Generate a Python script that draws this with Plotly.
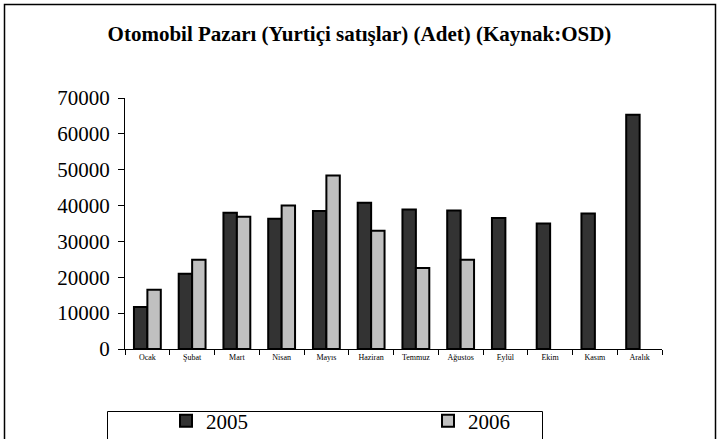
import plotly.graph_objects as go

months = ["Ocak", "Şubat", "Mart", "Nisan", "Mayıs", "Haziran", "Temmuz",
          "Ağustos", "Eylül", "Ekim", "Kasım", "Aralık"]
sales_2005 = [11700, 21000, 38000, 36300, 38500, 40800, 38900, 38600, 36500, 35000, 37800, 65300]
sales_2006 = [16500, 24900, 36900, 40000, 48400, 33000, 22600, 24900, None, None, None, None]
y_ticks = [0, 10000, 20000, 30000, 40000, 50000, 60000, 70000]
y_tick_text = [str(v) for v in y_ticks]

W, H = 719, 439
L, R, T, B = 125, 57, 98, 90
pw, ph = W - L - R, H - T - B

def px(x):
    return (x - L) / pw

def py(y):
    return (H - B - y) / ph

fig = go.Figure()
fig.add_trace(go.Bar(name="2005", x=months, y=sales_2005,
                     marker=dict(color="#333333", line=dict(color="black", width=2))))
fig.add_trace(go.Bar(name="2006", x=months, y=sales_2006,
                     marker=dict(color="#C0C0C0", line=dict(color="black", width=2))))

serif = "Liberation Serif, Times New Roman, serif"
fig.update_layout(
    width=W, height=H,
    margin=dict(l=L, r=R, t=T, b=B, autoexpand=False),
    paper_bgcolor="white", plot_bgcolor="white",
    barmode="group", bargap=0.4, bargroupgap=0,
    font=dict(family=serif, color="black"),
    title=dict(text="<b>Otomobil Pazarı (Yurtiçi satışlar) (Adet) (Kaynak:OSD)</b>",
               font=dict(family=serif, size=21, color="black"),
               x=0.5, xanchor="center", y=1 - 34 / H, yanchor="middle", yref="container"),
    xaxis=dict(showline=True, linecolor="black", linewidth=1, ticks="outside",
               tickson="boundaries", ticklen=5, tickcolor="black",
               tickfont=dict(family=serif, size=8, color="black"), showgrid=False),
    yaxis=dict(range=[0, 70000], tickvals=y_ticks, ticktext=y_tick_text, showline=True,
               linecolor="black", linewidth=1, ticks="outside", ticklen=6, tickcolor="black",
               tickfont=dict(family=serif, size=21, color="black"), showgrid=False,
               zeroline=False, ticklabelstandoff=4),
    showlegend=True,
    legend=dict(orientation="h", xref="container", yref="container",
                x=166 / W, xanchor="left", y=1 - 421 / H, yanchor="middle",
                entrywidth=217, entrywidthmode="pixels",
                font=dict(family=serif, size=21, color="black"), bgcolor="rgba(0,0,0,0)",
                traceorder="normal"),
    shapes=[
        dict(type="rect", xref="paper", yref="paper", x0=px(4.5), x1=px(715.5),
             y0=py(450), y1=py(4.5), line=dict(color="black", width=1.5), layer="above"),
        dict(type="rect", xref="paper", yref="paper", x0=px(107.5), x1=px(542.5),
             y0=py(450), y1=py(411.5), line=dict(color="black", width=1), layer="above"),
    ],
)

fig.write_html("out.html", config={"displayModeBar": False},
               post_script="document.body.style.margin='0';document.body.style.overflow='hidden';")
